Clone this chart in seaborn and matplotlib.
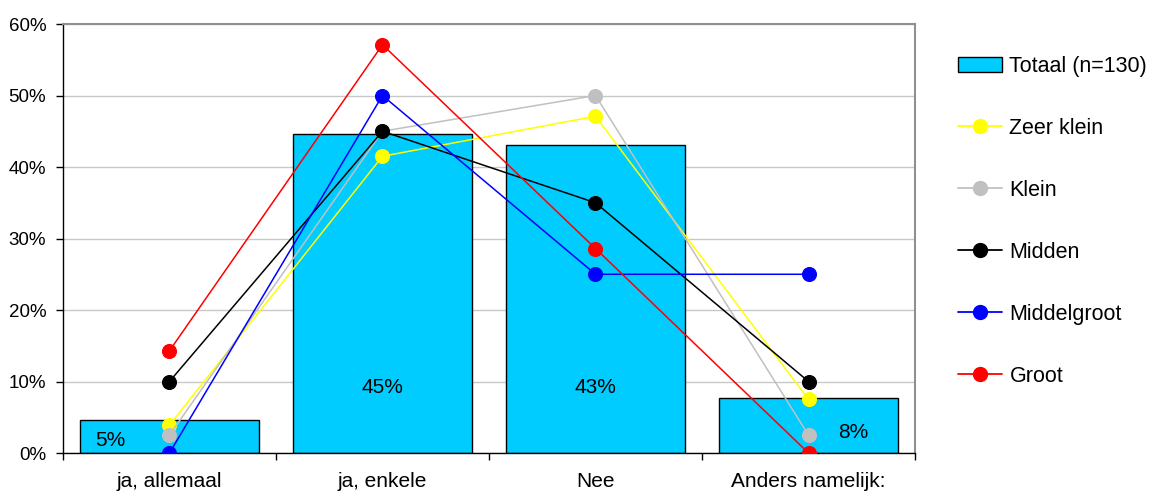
import matplotlib
matplotlib.use("Agg")
import matplotlib.pyplot as plt
from matplotlib.lines import Line2D
from matplotlib.patches import Patch
import seaborn as sns
import pandas as pd

categories = ["ja, allemaal", "ja, enkele", "Nee", "Anders namelijk:"]
totaal = [4.6, 44.6, 43.1, 7.7]
zeer_klein = [3.9, 41.5, 47.1, 7.5]
klein = [2.5, 45.0, 50.0, 2.5]
midden = [10.0, 45.0, 35.0, 10.0]
middelgroot = [0.0, 50.0, 25.0, 25.0]
groot = [14.3, 57.1, 28.6, 0.0]

series_names = ["Zeer klein", "Klein", "Midden", "Middelgroot", "Groot"]
series_values = [zeer_klein, klein, midden, middelgroot, groot]
series_colors = ["#FFFF00", "#C0C0C0", "#000000", "#0000FF", "#FF0000"]
bar_label = "Totaal (n=130)"
bar_color = "#00CCFF"

sns.set_theme(style="white", rc={"text.color": "black", "xtick.color": "black",
                                 "ytick.color": "black", "axes.labelcolor": "black"})
plt.rcParams["font.family"] = ["Liberation Sans", "DejaVu Sans"]

fig = plt.figure(figsize=(11.53, 4.93), dpi=100)
ax = fig.add_axes([0.0546, 0.0811, 0.7390, 0.8702])

bars_df = pd.DataFrame({"cat": categories, "val": totaal})
sns.barplot(data=bars_df, x="cat", y="val", order=categories, color=bar_color,
            saturation=1, width=0.836, edgecolor="black", linewidth=1.0, ax=ax,
            zorder=2)

long_rows = []
for name, vals in zip(series_names, series_values):
    for c, v in zip(categories, vals):
        long_rows.append({"cat": c, "val": v, "grp": name})
lines_df = pd.DataFrame(long_rows)
sns.pointplot(data=lines_df, x="cat", y="val", hue="grp", order=categories,
              hue_order=series_names, palette=dict(zip(series_names, series_colors)),
              errorbar=None, markers="o", markersize=10, linewidth=1.1,
              legend=False, ax=ax)
for coll in ax.collections:
    coll.set_zorder(4)
for ln in ax.lines:
    ln.set_zorder(4)

# value labels inside the bars
label_pos = [(-0.277, 1.8), (0.0, 9.2), (0.0, 9.2), (0.21, 2.9)]
for i, (v, (dx, y)) in enumerate(zip(totaal, label_pos)):
    ax.text(i + dx, y, f"{round(v):.0f}%", ha="center", va="center",
            fontsize=15, color="black", zorder=5)

ax.set_xlim(-0.5, 3.5)
ax.set_ylim(0, 60)
ax.set_yticks(range(0, 61, 10))
ax.set_yticklabels([f"{t}%" for t in range(0, 61, 10)], fontsize=13.5)
ax.yaxis.grid(True, color="#C8C8C8", linewidth=1.0, zorder=0)
ax.set_axisbelow(True)
ax.set_xticks(range(len(categories)))
ax.set_xticklabels(categories, fontsize=15)
ax.set_xticks([i - 0.5 for i in range(len(categories) + 1)], minor=True)
ax.tick_params(axis="x", which="major", length=0, pad=14)
ax.tick_params(axis="x", which="minor", length=5, width=1, color="black", direction="out", bottom=True)
ax.tick_params(axis="y", length=5, width=1, color="black", direction="out", left=True, pad=7)
ax.set_xlabel("")
ax.set_ylabel("")

for side in ["left", "bottom"]:
    ax.spines[side].set_color("black")
    ax.spines[side].set_linewidth(1.0)
for side in ["top", "right"]:
    ax.spines[side].set_visible(True)
    ax.spines[side].set_color("#909090")
    ax.spines[side].set_linewidth(1.5)

handles = [Patch(facecolor=bar_color, edgecolor="black", linewidth=1.0)]
for c in series_colors:
    handles.append(Line2D([0], [0], color=c, marker="o", markersize=10, linewidth=1.3))
fig.legend(handles, [bar_label] + series_names, loc="upper left",
           bbox_to_anchor=(0.831, 0.8864), frameon=False, fontsize=15.5,
           borderpad=0, borderaxespad=0,
           labelspacing=1.9, handlelength=2.05, handletextpad=0.33,
           handleheight=0.7)

fig.savefig("out.png", dpi=100)
